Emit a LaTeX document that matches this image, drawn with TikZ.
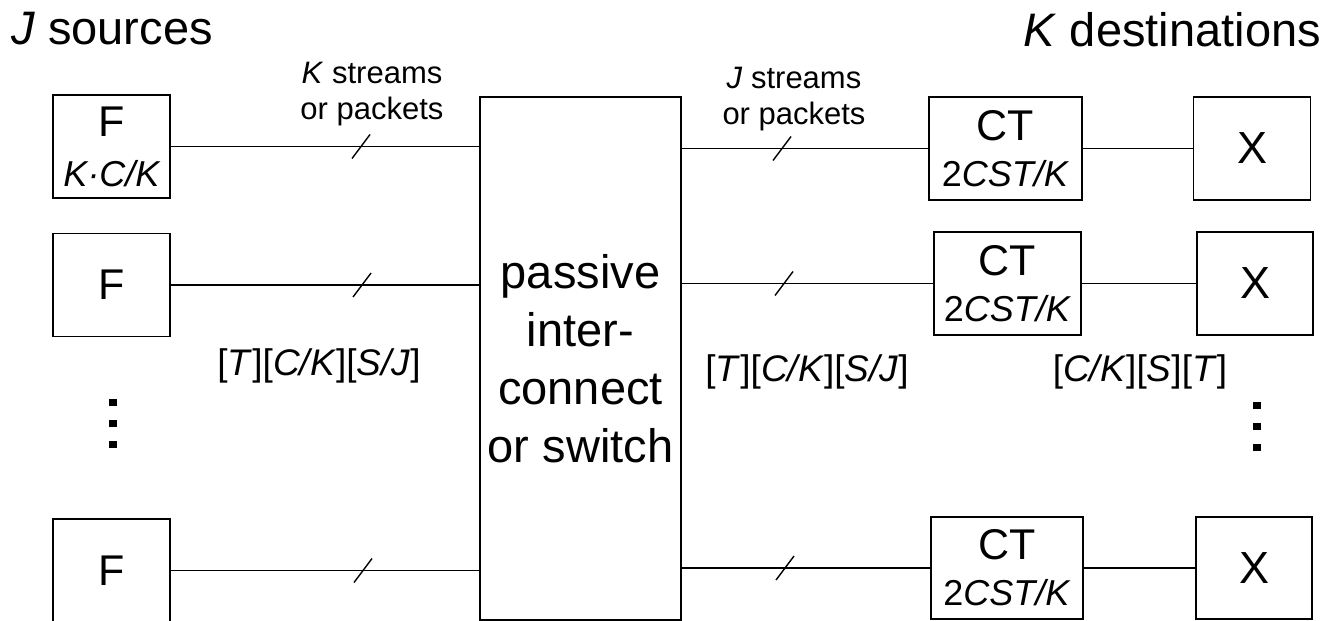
\documentclass[tikz,border=0pt]{standalone}
\usepackage{fontspec}
\setmainfont{Liberation Sans}
\newcommand\fsz[2]{\fontsize{#1bp}{#2bp}\selectfont}
\tikzset{
  blk/.style={draw, line width=1.8bp, inner sep=0pt, align=center},
  swbox/.style={blk, line width=2.2bp, minimum width=201bp, minimum height=523bp, font=\fsz{47}{58}},
  srcbox/.style={blk, minimum width=117bp, minimum height=103bp, font=\fsz{43}{50}},
  ctbox/.style={blk, minimum height=103bp, font=\fsz{43}{46}},
  xbox/.style={blk, minimum width=117bp, minimum height=103bp, font=\fsz{45}{50}},
  wire/.style={line width=1.6bp},
  lbl/.style={inner sep=0pt, align=center},
  pics/wirecut/.style={code={\draw[line width=1.4bp] (-9,12) -- (9,-12);}},
  dotmark/.style={fill, inner sep=0pt, minimum width=8bp, minimum height=7bp}
}
\begin{document}
\begin{tikzpicture}[x=1bp, y=-1bp]
\useasboundingbox (0,0) rectangle (1329,621);

% headings
\node[lbl, font=\fsz{47}{56}, anchor=base west] (hsrc) at (11,45) {\textit{J} sources};
\node[lbl, font=\fsz{47}{56}, anchor=base east] (hdst) at (1321,47) {\textit{K} destinations};

% sources
\node[srcbox] (F1) at (111.5,146.5) {F\\{\fsz{36}{50}\itshape K·C/K}};
\node[srcbox] (F2) at (111.5,285) {F};
\node[srcbox] (F3) at (111.5,570.5) {F};

% interconnect
\node[swbox] (sw) at (580.5,358.5) {passive\\inter-\\connect\\or switch};

% corner turners
\node[ctbox, minimum width=153bp] (CT1) at (1005.5,148.5) {CT\\{\fsz{36}{46}2\textit{CST/K}}};
\node[ctbox, minimum width=147bp] (CT2) at (1007.5,283.5) {CT\\{\fsz{36}{46}2\textit{CST/K}}};
\node[ctbox, minimum width=152bp, minimum height=102bp] (CT3) at (1007,568) {CT\\{\fsz{36}{46}2\textit{CST/K}}};

% correlators
\node[xbox] (X1) at (1252,148.5) {X};
\node[xbox, minimum width=116bp] (X2) at (1255,283.5) {X};
\node[xbox, minimum width=116bp, minimum height=102bp] (X3) at (1254,568) {X};

% links into the interconnect
\draw[wire] (F1.east) -- (F1.east -| sw.west);
\draw[wire] (F2.east) -- (F2.east -| sw.west);
\draw[wire] (F3.east) -- (F3.east -| sw.west);
% links out of the interconnect
\draw[wire] (CT1.west -| sw.east) -- (CT1.west);
\draw[wire] (CT2.west -| sw.east) -- (CT2.west);
\draw[wire] (CT3.west -| sw.east) -- (CT3.west);
% corner turner to correlator
\draw[wire] (CT1) -- (X1);
\draw[wire] (CT2) -- (X2);
\draw[wire] (CT3) -- (X3);

% bus marks
\coordinate (c11) at (361,146.5);
\coordinate (c12) at (362,285);
\coordinate (c13) at (363,570.5);
\coordinate (c21) at (782,148.5);
\coordinate (c22) at (784,283.5);
\coordinate (c23) at (785,568);
\pic at (c11) {wirecut};
\pic at (c12) {wirecut};
\pic at (c13) {wirecut};
\pic at (c21) {wirecut};
\pic at (c22) {wirecut};
\pic at (c23) {wirecut};

% link labels
\node[lbl, font=\fsz{31}{36}] (l1) at (372,94) {\textit{K} streams\\or packets};
\node[lbl, font=\fsz{31}{36}] (l2) at (794,99) {\textit{J} streams\\or packets};
\node[lbl, font=\fsz{37}{42}] (o1) at (319,366) {[\textit{T}][\textit{C/K}][\textit{S/J}]};
\node[lbl, font=\fsz{37}{42}] (o2) at (807,372) {[\textit{T}][\textit{C/K}][\textit{S/J}]};
\node[lbl, font=\fsz{37}{42}] (o3) at (1140,372) {[\textit{C/K}][\textit{S}][\textit{T}]};

% vertical ellipses
\node[dotmark] (dl1) at (113,402.5) {};
\node[dotmark] (dl2) at (113,423.5) {};
\node[dotmark] (dl3) at (113,444.5) {};
\node[dotmark] (dr1) at (1257,405) {};
\node[dotmark] (dr2) at (1257,426.5) {};
\node[dotmark] (dr3) at (1257,447) {};
\end{tikzpicture}
\end{document}
